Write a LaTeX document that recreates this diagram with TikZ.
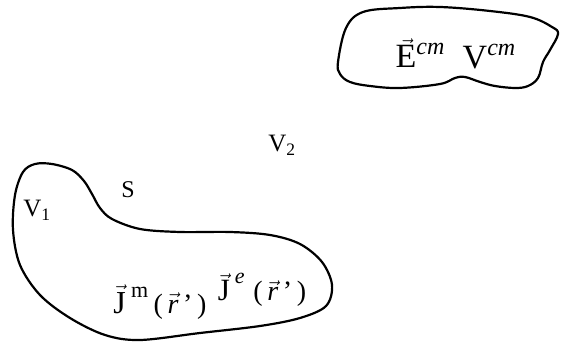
\documentclass[tikz,border=0pt]{standalone}
\usepackage{fontspec}
\setmainfont{Liberation Serif}
\newcommand\vecbx[1]{$\vec{\hbox{#1}}$}
\newcommand\supx[3]{\raisebox{#1}{\fontsize{#2}{22}\selectfont #3}}
\begin{document}
\begin{tikzpicture}[x=1pt,y=-1pt,
  blob/.style={draw=black,line width=2.2pt,line join=round},
  lbl/.style={inner sep=0pt,text=black}]
\useasboundingbox (0,0) rectangle (564,344);
% top-right region
\draw[blob] plot[smooth cycle,tension=0.6] coordinates{
 (338,62) (346,28) (363,12) (400,8) (440,7) (490,11) (530,17) (552,27) (558,34)
 (550,50) (543,62) (538,78) (528,86) (515,88) (495,86) (480,82) (465,77) (455,78)
 (440,84) (400,88) (370,86) (350,82) (340,74)};
% bottom-left region V1 with surface S
\draw[blob] plot[smooth cycle,tension=0.55] coordinates{
 (23,172) (35,164) (52,164) (72,170) (84,181) (92,194) (100,208) (112,219)
 (140,229) (180,232) (230,232) (270,235) (300,244) (322,262) (332,285)
 (326,306) (300,318) (260,326) (200,333) (140,340) (105,335) (70,318)
 (40,295) (20,265) (13,230) (15,195)};
\node[lbl,font=\fontsize{34}{38}\selectfont] (E) at (420,53) {\vecbx{E}\supx{0.4em}{24}{\itshape cm}};
\node[lbl,font=\fontsize{34}{38}\selectfont] (Vcm) at (489,57) {V\supx{0.38em}{24}{\itshape cm}};
\node[lbl,font=\fontsize{25}{28}\selectfont] (V2) at (282,145) {V\textsubscript{2}};
\node[lbl,font=\fontsize{24}{28}\selectfont] (S) at (128,190) {S};
\node[lbl,font=\fontsize{25}{28}\selectfont] (V1) at (37,210) {V\textsubscript{1}};
\node[lbl,font=\fontsize{32}{36}\selectfont] (Jm) at (160,302) {\vecbx{J}\,\supx{0.5em}{22}{m}\,{\fontsize{28}{32}\selectfont(\,\vecbx{\itshape r}\,'\,)}};
\node[lbl,font=\fontsize{31}{36}\selectfont] (Je) at (262,290) {\vecbx{J}\,\supx{0.55em}{22}{\itshape e}\;{\fontsize{28}{32}\selectfont(\,\vecbx{\itshape r}\,'\,)}};
\end{tikzpicture}
\end{document}
